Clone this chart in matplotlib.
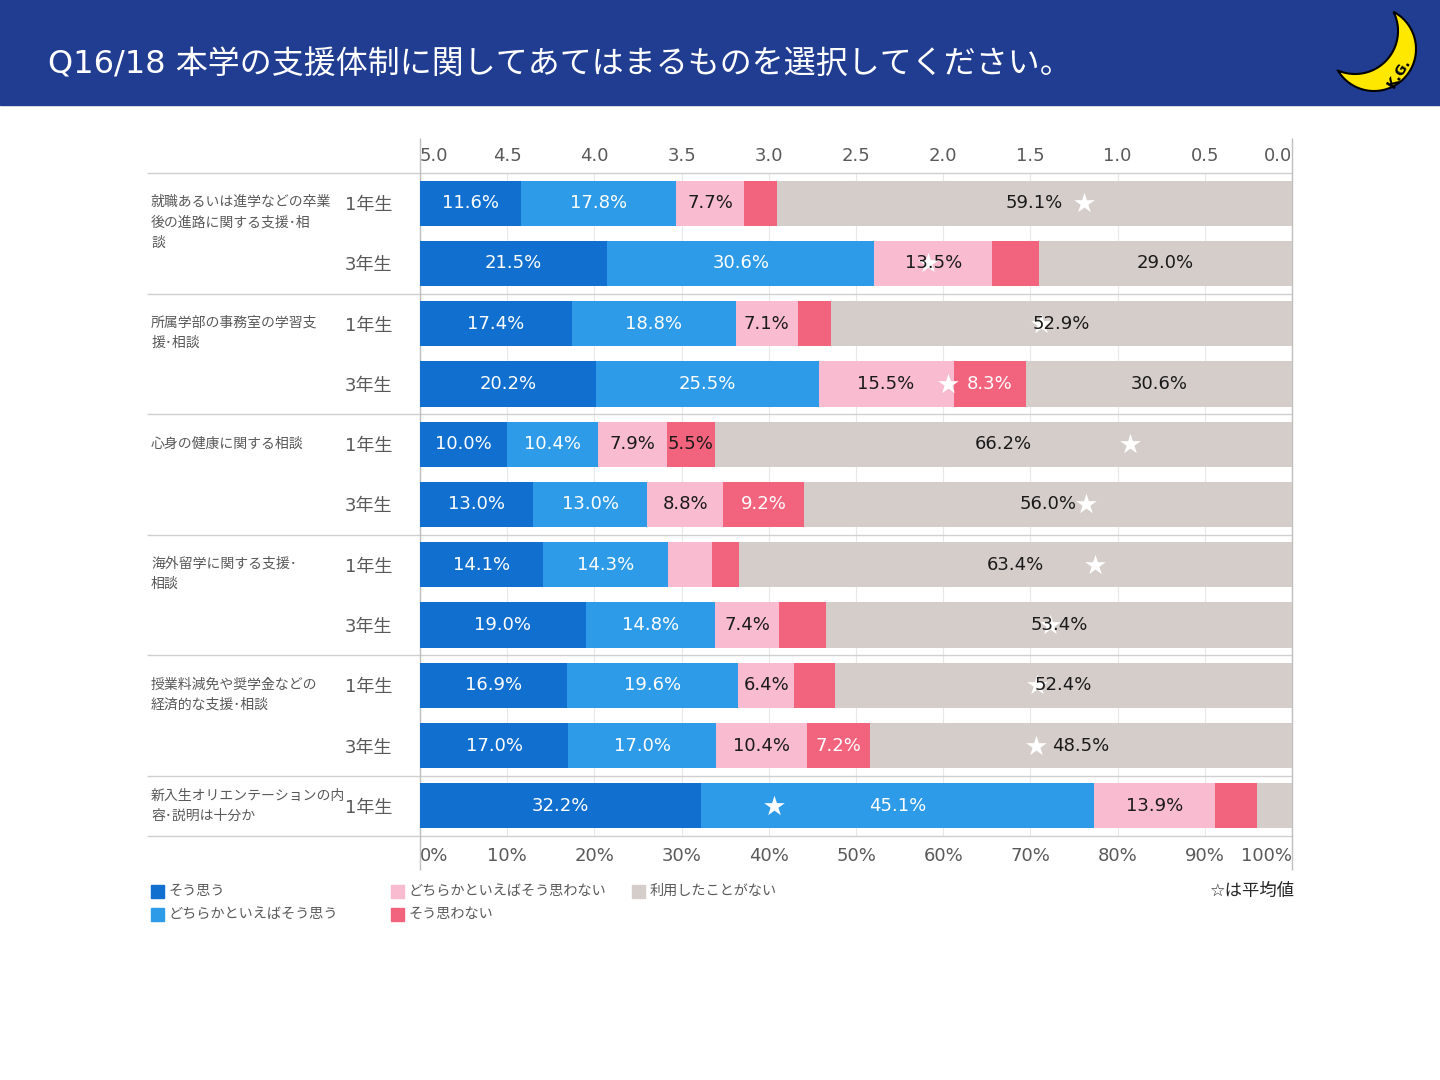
import numpy as np
import matplotlib
matplotlib.use("Agg")
import matplotlib.pyplot as plt
from matplotlib.patches import Rectangle, Polygon
from matplotlib.transforms import blended_transform_factory

plt.rcParams['font.family'] = ['DejaVu Sans', 'Noto Sans CJK JP']

title = "Q16/18 本学の支援体制に関してあてはまるものを選択してください。"
groups = ["就職あるいは進学などの卒業\n後の進路に関する支援･相\n談",
          "所属学部の事務室の学習支\n援･相談",
          "心身の健康に関する相談",
          "海外留学に関する支援･\n相談",
          "授業料減免や奨学金などの\n経済的な支援･相談",
          "新入生オリエンテーションの内\n容･説明は十分か"]
group_rows = [2, 2, 2, 2, 2, 1]
years = ["1年生", "3年生", "1年生", "3年生", "1年生", "3年生",
         "1年生", "3年生", "1年生", "3年生", "1年生"]

series_names = ["そう思う", "どちらかといえばそう思う", "どちらかといえばそう思わない",
                "そう思わない", "利用したことがない"]
so_omou = [11.6, 21.5, 17.4, 20.2, 10.0, 13.0, 14.1, 19.0, 16.9, 17.0, 32.2]
dochira_so = [17.8, 30.6, 18.8, 25.5, 10.4, 13.0, 14.3, 14.8, 19.6, 17.0, 45.1]
dochira_not = [7.7, 13.5, 7.1, 15.5, 7.9, 8.8, 5.1, 7.4, 6.4, 10.4, 13.9]
so_not = [3.8, 5.4, 3.8, 8.3, 5.5, 9.2, 3.1, 5.4, 4.7, 7.2, 4.8]
never = [59.1, 29.0, 52.9, 30.6, 66.2, 56.0, 63.4, 53.4, 52.4, 48.5, 4.0]
averages = [1.19, 2.09, 1.44, 1.97, 0.93, 1.18, 1.13, 1.39, 1.46, 1.47, 2.97]

avg_ticks = [5.0, 4.5, 4.0, 3.5, 3.0, 2.5, 2.0, 1.5, 1.0, 0.5, 0.0]
pct_ticks = [0, 10, 20, 30, 40, 50, 60, 70, 80, 90, 100]

colors = ["#1170CF", "#2E9BE8", "#F8BBD0", "#F2637E", "#D5CDC9"]
text_colors = ["white", "white", "#1a1a1a", "white", "#1a1a1a"]
grey = "#595959"

fig = plt.figure(figsize=(14.4, 10.8), dpi=100)
ax = fig.add_axes([420 / 1440, 1 - 836 / 1080, 872 / 1440, 663 / 1080])
ax2 = ax.twiny()

rows = np.arange(len(years))
left = np.zeros(len(rows))
for name, vals, c, tc in zip(series_names, [so_omou, dochira_so, dochira_not, so_not, never],
                             colors, text_colors):
    vals = np.array(vals)
    bars = ax.barh(rows, vals, left=left, height=0.75, color=c, zorder=2)
    labels = [f"{v:.1f}%" if v >= 5.5 else "" for v in vals]
    texts = ax.bar_label(bars, labels=labels, label_type="center", fontsize=13,
                         color=tc, zorder=5, family="DejaVu Sans")
    if name == "そう思わない":
        for t, v in zip(texts, vals):
            if v < 6:
                t.set_color("#1a1a1a")
    left += vals

# average stars (top scale 5 -> 0)
ax.scatter(averages, rows, marker="*", s=240, color="white", linewidths=0,
           zorder=4, transform=ax2.transData)

ax.set_xlim(0, 100)
ax.set_ylim(10.5, -0.5)
ax2.set_xlim(5, 0)

ax.set_xticks(pct_ticks, [f"{t}%" for t in pct_ticks])
ax.set_yticks(rows, years)
ax.tick_params(axis="x", length=0, pad=8, labelsize=13, labelcolor=grey)
ax.tick_params(axis="y", length=0, pad=20, labelsize=13, labelcolor=grey)
ax2.set_xticks(avg_ticks, [f"{t:.1f}" for t in avg_ticks])
ax2.tick_params(axis="x", length=0, pad=6, labelsize=13, labelcolor=grey)
for a in (ax, ax2):
    for s in a.spines.values():
        s.set_visible(False)
    labs = a.get_xticklabels()
    labs[0].set_ha("left")
    labs[-1].set_ha("right")

ax.grid(axis="x", color="#E8E8E8", lw=0.8, zorder=0)
ax.set_axisbelow(True)

# group separators and frame lines
bounds = np.concatenate([[0], np.cumsum(group_rows)]) - 0.5
ax.hlines(bounds, -31.3, 100, colors="#D0D0D0", lw=1, clip_on=False, zorder=1)
ax.vlines([0, 100], -1.08, 11.06, colors="#BFBFBF", lw=1, clip_on=False, zorder=1)

trans = blended_transform_factory(fig.transFigure, ax.transData)
start = 0
for g, n in zip(groups, group_rows):
    if n > 1:
        ax.text(151 / 1440, start - 0.13, g, transform=trans, ha="left", va="top",
                fontsize=10, color=grey, linespacing=1.55)
    else:
        ax.text(151 / 1440, start, g, transform=trans, ha="left", va="center",
                fontsize=10, color=grey, linespacing=1.55)
    start += n

# header, logo and legend in pixel space
bg = fig.add_axes([0, 0, 1, 1], zorder=-1)
bg.set_xlim(0, 1440)
bg.set_ylim(1080, 0)
bg.axis("off")
bg.add_patch(Rectangle((0, 0), 1440, 105, color="#213D91"))
bg.text(48, 65, title, color="white", fontsize=23, va="center", ha="left")


def crescent(c1, r1, c2, r2, n=720):
    t = np.linspace(0, 2 * np.pi, n, endpoint=False)
    p1 = np.c_[c1[0] + r1 * np.cos(t), c1[1] + r1 * np.sin(t)]
    p2 = np.c_[c2[0] + r2 * np.cos(t), c2[1] + r2 * np.sin(t)]
    out1 = np.hypot(p1[:, 0] - c2[0], p1[:, 1] - c2[1]) > r2
    in2 = np.hypot(p2[:, 0] - c1[0], p2[:, 1] - c1[1]) < r1
    k1 = np.argmin(out1)
    p1, out1 = np.roll(p1, -k1, axis=0), np.roll(out1, -k1)
    k2 = np.argmin(in2)
    p2, in2 = np.roll(p2, -k2, axis=0), np.roll(in2, -k2)
    return np.vstack([p1[out1], p2[in2][::-1]])


moon = crescent((1374, 49), 42, (1355, 31), 43)
bg.add_patch(Polygon(moon, closed=True, facecolor="#FFE800", edgecolor="black", lw=1.5))
bg.text(1399, 73, "K.G.", rotation=58, fontsize=10, color="black", ha="center",
        va="center", fontweight="bold")

leg_x = [151, 151, 391, 391, 632]
leg_y = [891, 914, 891, 914, 891]
for name, c, x, y in zip(series_names, colors, leg_x, leg_y):
    bg.add_patch(Rectangle((x, y - 6.5), 13, 13, color=c))
    bg.text(x + 18, y, name, fontsize=10.2, color=grey, va="center", ha="left")
bg.text(1295, 891, "☆は平均値", fontsize=12.5, color="#262626", va="center", ha="right")

fig.savefig("out.png", dpi=100)
